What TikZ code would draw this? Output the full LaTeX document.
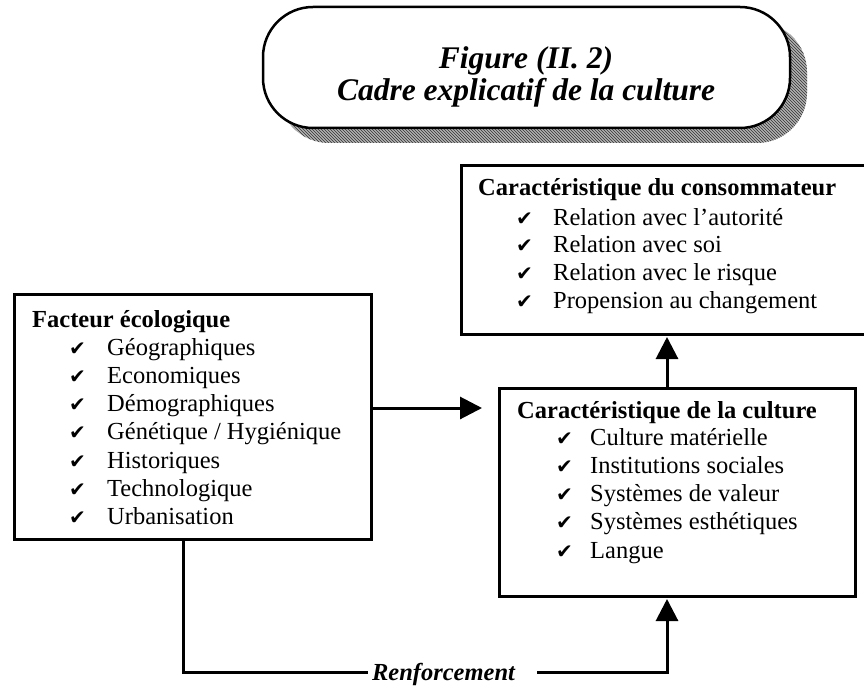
\documentclass[tikz,border=0pt]{standalone}
\usepackage{fontspec}
\setmainfont{Liberation Serif}
\newfontfamily\symfont{DejaVu Sans}
\usetikzlibrary{arrows.meta,patterns}
\begin{document}
\begin{tikzpicture}[x=1pt,y=-1pt,
  box/.style={draw, line width=3pt, inner sep=0pt, anchor=north west},
  txt/.style={anchor=base west, inner sep=0pt, font=\fontsize{24.5}{28}\selectfont},
  hd/.style={anchor=base west, inner sep=0pt, font=\fontsize{24.5}{28}\selectfont\bfseries},
  ck/.style={anchor=base west, inner sep=0pt, font=\fontsize{20}{24}\selectfont\symfont},
  ttl/.style={anchor=base, inner sep=0pt, font=\fontsize{31.5}{34}\selectfont\bfseries\itshape},
  conn/.style={line width=3pt},
  tip/.style={-{Triangle[length=22pt,width=22pt]}}]
\useasboundingbox (0,0) rectangle (864,687);
\fill[white] (0,0) rectangle (864,687);
% title with hatched shadow
\path[preaction={fill=gray!60}, pattern=north west lines, pattern color=black!80, rounded corners=50pt]
  (279,22) rectangle (807,143);
\node[draw, fill=white, line width=2.5pt, rounded corners=50pt, minimum width=527pt, minimum height=121pt, inner sep=0pt] (title) at (526.5,67.5) {};
\node[ttl] (t1) at (526,69) {Figure (II. 2)};
\node[ttl] (t2) at (526,101) {Cadre explicatif de la culture};
% boxes
\node[box, minimum width=357pt, minimum height=245pt] (fact) at (13,293) {};
\node[box, minimum width=408pt, minimum height=169pt] (cons) at (460,164) {};
\node[box, minimum width=356pt, minimum height=208pt] (cult) at (498,387) {};
% facteur
\node[hd] (fh) at (32,327) {Facteur écologique};
\foreach \t [count=\i] in {Géographiques, Economiques, Démographiques, Génétique / Hygiénique, Historiques, Technologique, Urbanisation}{
  \node[ck] (fc\i) at (69,{355+28.33*(\i-1)}) {✔};
  \node[txt] (ft\i) at (107,{355+28.33*(\i-1)}) {\t};
}
% consommateur
\node[hd] (ch) at (478,196) {Caractéristique du consommateur};
\foreach \t [count=\i] in {Relation avec l’autorité, Relation avec soi, Relation avec le risque, Propension au changement}{
  \node[ck] (cc\i) at (516,{225+27.7*(\i-1)}) {✔};
  \node[txt] (ct\i) at (553,{225+27.7*(\i-1)}) {\t};
}
% culture
\node[hd] (uh) at (517,418) {Caractéristique de la culture};
\foreach \t [count=\i] in {Culture matérielle, Institutions sociales, Systèmes de valeur, Systèmes esthétiques, Langue}{
  \node[ck] (uc\i) at (556,{445+28.25*(\i-1)}) {✔};
  \node[txt] (ut\i) at (590,{445+28.25*(\i-1)}) {\t};
}
% connectors
\coordinate (h) at (0,408);
\coordinate (v) at (667,0);
\coordinate (r1) at (183,672);
\coordinate (r2) at (667,672);
\draw[conn,tip] (fact.east |- h) -- ([xshift=-16pt]cult.west |- h);
\draw[conn,tip] (cult.north -| v) -- ([yshift=-1pt]cons.south -| v);
\node[inner sep=0pt, font=\fontsize{24.5}{28}\selectfont\bfseries\itshape] (renf) at (443.5,674) {Renforcement};
\draw[conn] (fact.south -| r1) -- (r1) -- ([xshift=-4pt]renf.west |- r1);
\draw[conn,tip] ([xshift=22pt]renf.east |- r2) -- (r2) -- ([yshift=-1pt]cult.south -| r2);
\end{tikzpicture}
\end{document}
